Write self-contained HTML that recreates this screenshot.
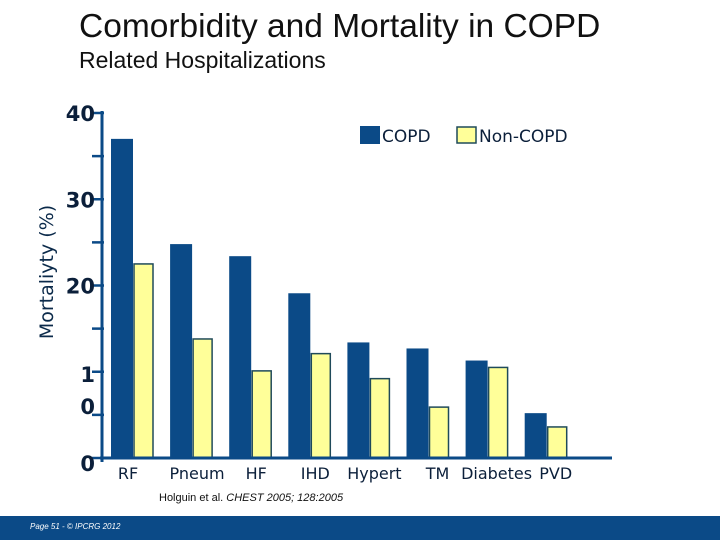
<!DOCTYPE html>
<html><head><meta charset="utf-8"><style>
body{margin:0;background:#fff;}
#wrap{position:relative;width:720px;height:540px;overflow:hidden;font-family:"Liberation Sans","DejaVu Sans",sans-serif;}
.t{position:absolute;white-space:nowrap;}
</style></head><body>
<div id="wrap">
<div class="t" style="left:79px;top:8px;font-size:33.5px;color:#111;">Comorbidity and Mortality in COPD</div>
<div class="t" style="left:79px;top:47px;font-size:23px;color:#111;">Related Hospitalizations</div>
<div class="t" style="left:47px;top:272px;font-size:19px;color:#0b2a4a;font-family:'DejaVu Sans',sans-serif;transform:translate(-50%,-50%) rotate(-90deg);">Mortaliyty (%)</div>
<svg id="chart" width="720" height="540" style="position:absolute;left:0;top:0"></svg>
<div style="position:absolute;left:0;top:516px;width:720px;height:24px;background:#0b4a87;"></div>
<div class="t" style="left:30px;top:522px;font-size:8px;font-style:italic;color:#fff;">Page 51 - © IPCRG 2012</div>
</div>
<script>
const categories=["RF","Pneum","HF","IHD","Hypert","TM","Diabetes","PVD"];
const copdValues=[37,24.8,23.4,19.1,13.4,12.7,11.3,5.2];
const nonCopdValues=[22.5,13.8,10.1,12.1,9.2,5.9,10.5,3.6];
const tickLabels=["0","1\n0","20","30","40"];
const tickValues=[0,10,20,30,40];
const svg=document.getElementById('chart');
const NS='http://www.w3.org/2000/svg';
const y0=458,yTop=113,vMax=40;
function y(v){return y0-(y0-yTop)*v/vMax;}
const gx0=111,gStep=59.1;
function x(i){return gx0+i*gStep;}
function mk(tag,attrs){const e=document.createElementNS(NS,tag);for(const k in attrs)e.setAttribute(k,attrs[k]);svg.appendChild(e);return e;}
let ax=mk('line',{x1:102,y1:y(40)-2,x2:102,y2:y0+4,stroke:'#0b4a87','stroke-width':3});


for(let v=0;v<=40;v+=5){
  const tk=mk('line',{x1:92,y1:y(v),x2:104,y2:y(v),stroke:'#0b4a87','stroke-width':2.5});
  
  
}
tickValues.forEach((v,i)=>{
  const lines=tickLabels[i].split('\n');
  lines.forEach((s,j)=>{
    const t=mk('text',{x:95,y:y(v)+8+j*32+(lines.length>1?2:0)+(v===0?5:0),'text-anchor':'end','font-size':21,'font-weight':'bold',fill:'#0b1f3a','font-family':'DejaVu Sans, sans-serif'});
    t.textContent=s;
    
    
  });
});
categories.forEach((c,i)=>{
  const b=mk('rect',{x:x(i),y:y(copdValues[i]),width:22,height:y0-y(copdValues[i]),fill:'#0b4a87'});
  
  
  const n=mk('rect',{x:x(i)+23,y:y(nonCopdValues[i]),width:19,height:y0-y(nonCopdValues[i]),fill:'#ffff99',stroke:'#1f4a5a','stroke-width':1.5});
  
  
  const t=mk('text',{x:x(i)+(i===0?17:27)+(i>4?4:0),y:479,'text-anchor':'middle','font-size':16,fill:'#0b1f3a','font-family':'DejaVu Sans, sans-serif'});
  t.textContent=c;
  
  
});
let bl=mk('line',{x1:100,y1:y0,x2:612,y2:y0,stroke:'#0b4a87','stroke-width':3});


let l1=mk('rect',{x:360,y:126,width:20,height:18,fill:'#0b4a87'});


let lt1=mk('text',{x:382,y:142,'font-size':17,fill:'#0b1f3a','font-family':'DejaVu Sans, sans-serif'});lt1.textContent='COPD';


let l2=mk('rect',{x:457,y:127,width:19,height:16,fill:'#ffff99',stroke:'#1f4a5a','stroke-width':1.5});


let lt2=mk('text',{x:479,y:142,'font-size':17,fill:'#0b1f3a','font-family':'DejaVu Sans, sans-serif'});lt2.textContent='Non-COPD';


let cite=mk('text',{x:159,y:501,'font-size':11,fill:'#111','font-family':'Liberation Sans, sans-serif'});
cite.innerHTML='Holguin et al. <tspan font-style="italic">CHEST 2005; 128:2005</tspan>';


</script>
</body></html>
